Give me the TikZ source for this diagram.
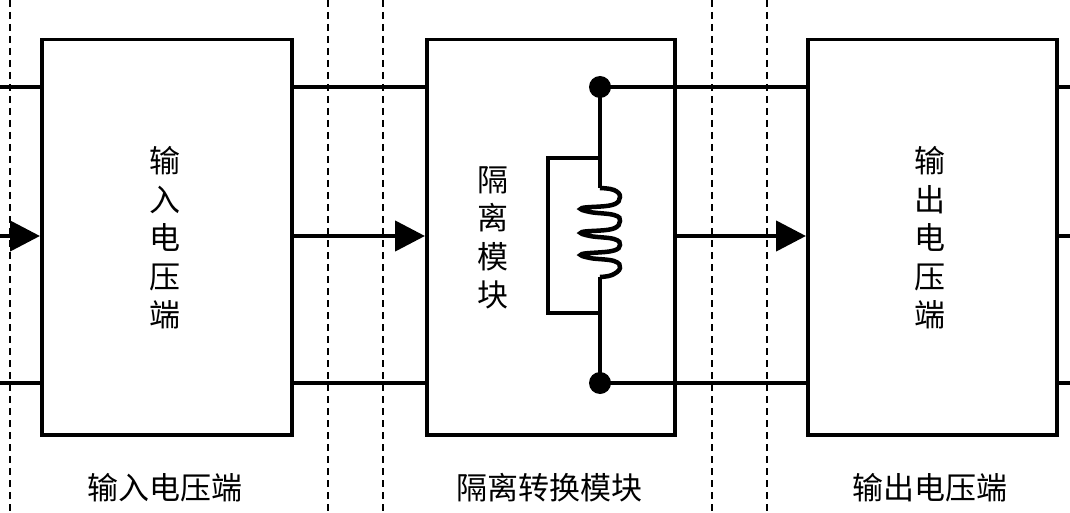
\documentclass[tikz,border=0pt]{standalone}
\usepackage{fontspec}
\newfontfamily\cjk{Noto Sans CJK SC}
\usetikzlibrary{arrows.meta}
\begin{document}
\begin{tikzpicture}[x=1pt,y=-1pt,line width=4.5pt,
  blk/.style={draw,line width=3.5pt,fill=white},
  dsh/.style={line width=2pt,dash pattern=on 7pt off 5pt},
  arr/.style={-{Triangle[length=30pt,width=30pt]}},
  lbl/.style={font=\cjk\fontsize{31}{34}\selectfont},
  vt/.style={font=\cjk\fontsize{31}{38.5}\selectfont,align=center}]
\useasboundingbox (0,0) rectangle (1070,513);
\foreach \x in {10,328,383,712,767} \draw[dsh] (\x,0) -- (\x,513);
% boxes
\node[blk,minimum width=250pt,minimum height=395pt,anchor=north west] (b1) at (40,38) {};
\node[blk,minimum width=248pt,minimum height=395pt,anchor=north west] (b2) at (425,38) {};
\node[blk,minimum width=249pt,minimum height=395pt,anchor=north west] (b3) at (806,38) {};
\node[vt] (t1) at (165,238) {输\\入\\电\\压\\端};
\node[vt] (t2) at (493,238) {隔\\离\\模\\块};
\node[vt] (t3) at (930,238) {输\\出\\电\\压\\端};
\node[lbl] (l1) at (165,488) {输入电压端};
\node[lbl] (l2) at (549,488) {隔离转换模块};
\node[lbl] (l3) at (930,488) {输出电压端};
% connectors
\coordinate (s1) at (0,87); \coordinate (s2) at (0,236); \coordinate (s3) at (0,383);
\coordinate (e1) at (1070,87); \coordinate (e2) at (1070,236); \coordinate (e3) at (1070,383);
\draw (s1) -- (b1.west |- s1);
\draw (s3) -- (b1.west |- s3);
\draw[arr] (s2) -- (b1.west |- s2);
\draw (b1.east |- s1) -- (b2.west |- s1);
\draw (b1.east |- s3) -- (b2.west |- s3);
\draw[arr] (b1.east |- s2) -- (b2.west |- s2);
\draw[arr] (b2.east |- s2) -- (b3.west |- s2);
\draw (b3.east |- s1) -- (e1);
\draw (b3.east |- s2) -- (e2);
\draw (b3.east |- s3) -- (e3);
% isolation
\coordinate (d1) at (600,87); \coordinate (d2) at (600,383);
\draw (d1) -- (b3.west |- d1);
\draw (d2) -- (b3.west |- d2);
\draw (d1) -- (600,188);
\draw plot[smooth,tension=0.7] coordinates {(600,188)(614,190)(620,197)(612,205)(582,208)(590,212)(614,215)(620,221)(612,229)(582,232)(590,236)(614,239)(620,245)(612,251)(582,254)(590,258)(614,261)(620,268)(612,275)(600,277)};
\draw (600,277) -- (d2);
\draw[line join=miter] (600,158) -- (548,158) -- (548,313) -- (600,313);
\fill (d1) circle (11pt);
\fill (d2) circle (11pt);
\end{tikzpicture}
\end{document}
